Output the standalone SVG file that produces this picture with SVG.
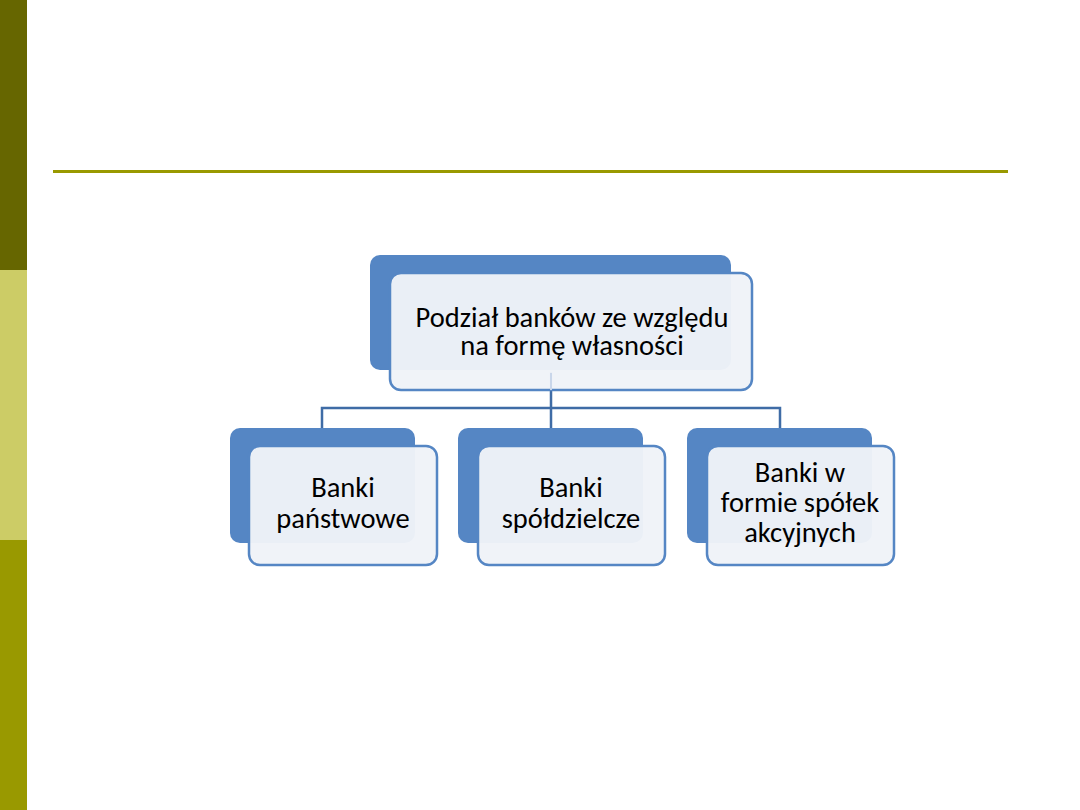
<svg xmlns="http://www.w3.org/2000/svg" width="1080" height="810" viewBox="0 0 1080 810">
<style>
.back{fill:#5586C4}
.front{fill:#EFF3F8;fill-opacity:0.97;stroke:#5586C4;stroke-width:2.5}
.lbl{font-family:Carlito,"Liberation Sans",Arial,sans-serif;fill:#000;text-anchor:middle}
.conn{fill:none;stroke:#3F6CA6;stroke-width:2.5}
</style>
<rect width="1080" height="810" fill="#FFFFFF"/>
<rect x="0" y="0" width="27" height="270" fill="#666600"/>
<rect x="0" y="270" width="27" height="270" fill="#CCCC66"/>
<rect x="0" y="540" width="27" height="270" fill="#999900"/>
<rect x="53" y="170" width="955" height="3" fill="#999900"/>
<g id="connectors">
<path class="conn" d="M551,372 V408 M322,408 H780 M322,406.8 V428 M551,408 V428 M780,406.8 V428"/>
</g>
<g id="node-top">
<rect class="back" x="370" y="255" width="361" height="115" rx="10"/>
<rect class="front" x="390" y="273" width="362" height="117" rx="11"/>
<path d="M551,373 V390" stroke="#C9D6EA" stroke-width="2"/>
<text class="lbl" font-size="28.5"><tspan x="572" y="327">Podział banków ze względu</tspan><tspan x="572" y="355">na formę własności</tspan></text>
</g>
<g id="node-left">
<rect class="back" x="230" y="428" width="185" height="115" rx="10"/>
<rect class="front" x="249" y="446" width="188" height="119" rx="11"/>
<text class="lbl" font-size="28.5"><tspan x="343" y="497">Banki</tspan><tspan x="343" y="528">państwowe</tspan></text>
</g>
<g id="node-middle">
<rect class="back" x="458" y="428" width="185" height="115" rx="10"/>
<rect class="front" x="478" y="446" width="187" height="119" rx="11"/>
<text class="lbl" font-size="28.5"><tspan x="571" y="497">Banki</tspan><tspan x="571" y="528">spółdzielcze</tspan></text>
</g>
<g id="node-right">
<rect class="back" x="687" y="428" width="185" height="115" rx="10"/>
<rect class="front" x="707" y="446" width="187" height="119" rx="11"/>
<text class="lbl" font-size="28.5"><tspan x="800" y="482">Banki w</tspan><tspan x="800" y="512">formie spółek</tspan><tspan x="800" y="542">akcyjnych</tspan></text>
</g>
</svg>
